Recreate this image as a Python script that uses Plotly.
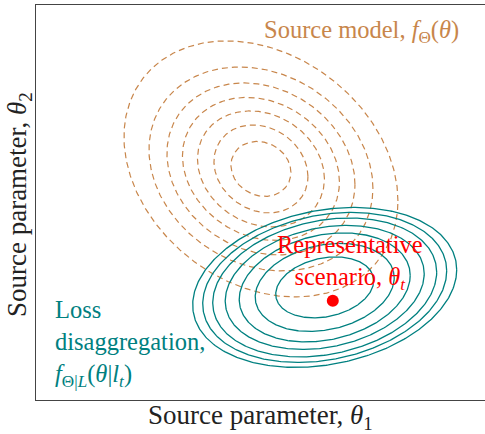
import numpy as np
import plotly.graph_objects as go

# ---- data (theta-space, arbitrary units) ----
# Source model f_Theta(theta): concentric contour levels (inner -> outer)
src_center = [5.01, 5.85]
src_sx = [0.668, 1.047, 1.414, 1.748, 2.094, 2.494, 3.051]
src_sy = [0.696, 1.114, 1.468, 1.810, 2.177, 2.582, 3.241]
src_rho = [-0.13, -0.17, -0.17, -0.18, -0.18, -0.19, -0.25]

# Loss disaggregation f_{Theta|L}(theta|l_t): contour levels (outer -> inner)
dis_center = [6.43, 2.85]
dis_sx = [2.940, 2.717, 2.494, 2.216, 1.904, 1.548, 1.091]
dis_sy = [2.025, 1.899, 1.759, 1.570, 1.380, 1.114, 0.772]
dis_rho = [0.22, 0.22, 0.22, 0.22, 0.22, 0.22, 0.22]

# Representative scenario theta_t
rep_point = [6.61, 2.51]

ORANGE = "#C8864B"
TEAL = "#008080"
RED = "#FF0000"
FONT = "Liberation Serif, DejaVu Serif, serif"

t = np.linspace(0, 2 * np.pi, 400)


def ellipse(c, sx, sy, rho):
    x = c[0] + sx * np.cos(t)
    y = c[1] + sy * (rho * np.cos(t) + np.sqrt(1 - rho ** 2) * np.sin(t))
    return x, y


fig = go.Figure()
for sx, sy, r in zip(src_sx, src_sy, src_rho):
    x, y = ellipse(src_center, sx, sy, r)
    fig.add_trace(go.Scatter(x=x, y=y, mode="lines", hoverinfo="skip",
                             line=dict(color=ORANGE, width=1.2, dash="6px,4px")))
for sx, sy, r in zip(dis_sx, dis_sy, dis_rho):
    x, y = ellipse(dis_center, sx, sy, r)
    fig.add_trace(go.Scatter(x=x, y=y, mode="lines", hoverinfo="skip",
                             line=dict(color=TEAL, width=1.3)))
fig.add_trace(go.Scatter(x=[rep_point[0]], y=[rep_point[1]], mode="markers",
                         hoverinfo="skip",
                         marker=dict(color=RED, size=12)))

axbase = dict(showgrid=False, zeroline=False, showticklabels=False,
              ticks="", showline=True, mirror=True, linecolor="#444", linewidth=1)

ann_size = 24.5
fig.update_layout(
    width=485, height=434,
    margin=dict(l=36, r=0, t=5, b=34),
    plot_bgcolor="white", paper_bgcolor="white",
    showlegend=False,
    xaxis=dict(range=[0, 10], **axbase),
    yaxis=dict(range=[0, 10], **axbase),
    font=dict(family=FONT, size=24),
    annotations=[
        dict(x=7.26, y=9.32, xref="x", yref="y", showarrow=False,
             xanchor="center", yanchor="middle",
             text="Source model, <i>f</i><sub>Θ</sub>(<i>θ</i>)",
             font=dict(color=ORANGE, size=ann_size, family=FONT)),
        dict(x=6.99, y=3.47, xref="x", yref="y", showarrow=False, align="center",
             xanchor="center", yanchor="middle",
             text="Representative<br>scenario, <i>θ</i><sub><i>t</i></sub>",
             font=dict(color=RED, size=ann_size, family=FONT)),
        dict(x=0.38, y=1.44, xref="x", yref="y", showarrow=False, align="left",
             xanchor="left", yanchor="middle",
             text="Loss<br>disaggregation,<br><i>f</i><sub>Θ|<i>L</i></sub>(<i>θ</i>|<i>l</i><sub><i>t</i></sub>)",
             font=dict(color=TEAL, size=ann_size, family=FONT)),
        dict(x=0.499, y=-0.042, xref="paper", yref="paper", showarrow=False,
             xanchor="center", yanchor="middle",
             text="Source parameter, <i>θ</i><sub>1</sub>",
             font=dict(color="#222", size=27, family=FONT)),
        dict(x=-0.0379, y=0.496, xref="paper", yref="paper", showarrow=False,
             xanchor="center", yanchor="middle", textangle=-90,
             text="Source parameter, <i>θ</i><sub>2</sub>",
             font=dict(color="#222", size=27, family=FONT)),
    ],
)

fig.write_html(
    "out.html",
    config={"displayModeBar": False},
    post_script="document.body.style.margin='0';document.body.style.overflow='hidden';",
)
